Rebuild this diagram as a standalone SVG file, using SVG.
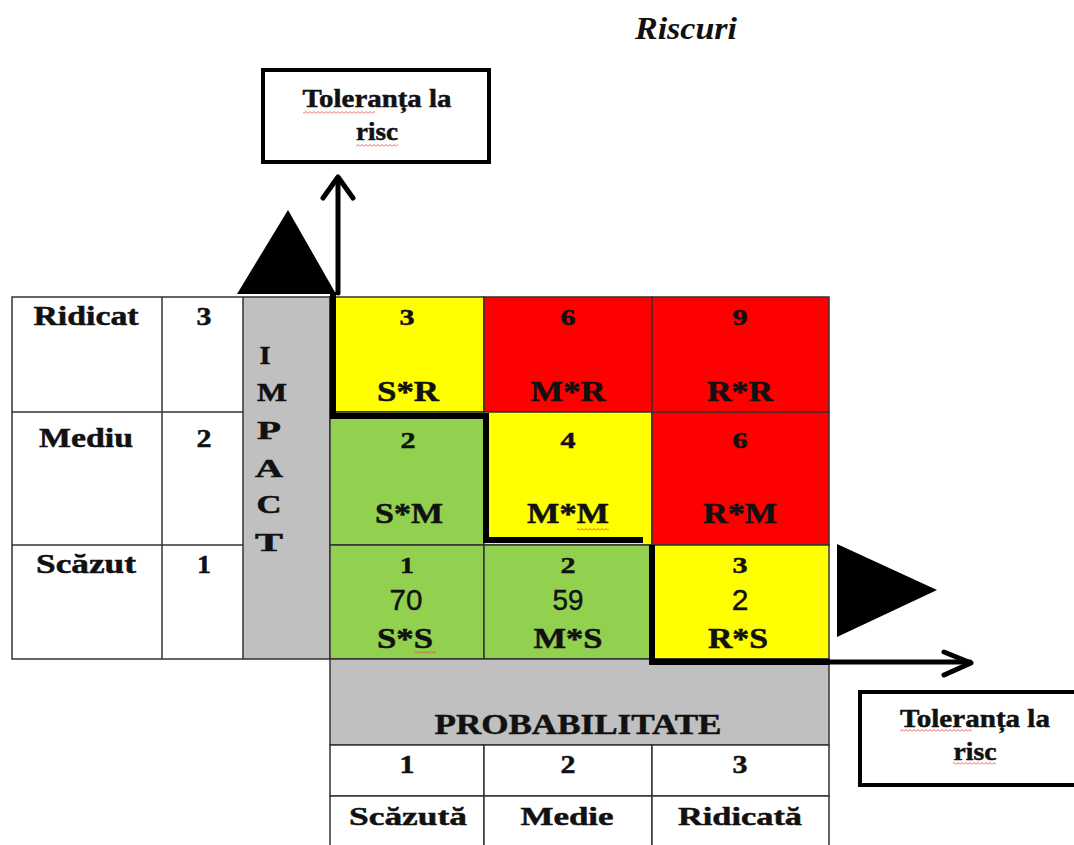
<svg xmlns="http://www.w3.org/2000/svg" width="1074" height="845" viewBox="0 0 1074 845">
<defs>
<style>
.t{font-family:"Liberation Serif","Times New Roman",serif;font-weight:bold;fill:#111;stroke:#111;stroke-width:0.5;text-anchor:middle}
.s{font-family:"Liberation Sans",Arial,sans-serif;font-weight:normal;fill:#111;stroke:#111;stroke-width:0.4;text-anchor:middle}
.g{stroke:#333;stroke-width:1.5}
.box{fill:#fff;stroke:#000;stroke-width:4}
.thick{fill:none;stroke:#000;stroke-width:6}
.arr{fill:none;stroke:#000;stroke-width:5;stroke-linecap:round;stroke-linejoin:round}
</style>
<pattern id="sq" width="4" height="3" patternUnits="userSpaceOnUse"><path d="M0 2.5 L2 0.5 L4 2.5" stroke="#e33" fill="none" stroke-width="0.8"/></pattern>
</defs>
<rect width="1074" height="845" fill="#fff"/>

<g id="title">
<text x="686" y="39" font-family="Liberation Serif,serif" font-weight="bold" font-style="italic" font-size="31" text-anchor="middle" textLength="102" lengthAdjust="spacingAndGlyphs" fill="#111">Riscuri</text>
</g>

<g id="tolerance-top">
<rect class="box" x="263" y="70" width="226" height="92"/>
<text class="t" x="377" y="107" font-size="26" textLength="149" lengthAdjust="spacingAndGlyphs">Toleranța la</text>
<text class="t" x="377" y="140" font-size="26" textLength="42" lengthAdjust="spacingAndGlyphs">risc</text>
<rect x="303" y="111" width="72" height="3" fill="url(#sq)"/>
<rect x="356" y="144" width="42" height="3" fill="url(#sq)"/>
</g>

<g id="tolerance-right">
<rect class="box" x="860" y="692" width="220" height="93"/>
<text class="t" x="975" y="727" font-size="26" textLength="150" lengthAdjust="spacingAndGlyphs">Toleranța la</text>
<text class="t" x="975" y="760" font-size="26" textLength="43" lengthAdjust="spacingAndGlyphs">risc</text>
<rect x="900" y="729" width="72" height="3" fill="url(#sq)"/>
<rect x="953" y="762" width="43" height="3" fill="url(#sq)"/>
</g>

<g id="impact-table">
<rect x="243" y="297" width="87" height="362" fill="#c0c0c0"/>
<rect class="g" x="12" y="297" width="318" height="362" fill="none"/>
<line class="g" x1="162" y1="297" x2="162" y2="659"/>
<line class="g" x1="243" y1="297" x2="243" y2="659"/>
<line class="g" x1="12" y1="412" x2="243" y2="412"/>
<line class="g" x1="12" y1="545" x2="243" y2="545"/>
<text class="t" x="86" y="325" font-size="27" textLength="105" lengthAdjust="spacingAndGlyphs">Ridicat</text>
<text class="t" x="204" y="325" font-size="25" textLength="15" lengthAdjust="spacingAndGlyphs">3</text>
<text class="t" x="86" y="447" font-size="27" textLength="94" lengthAdjust="spacingAndGlyphs">Mediu</text>
<text class="t" x="204" y="447" font-size="25" textLength="15" lengthAdjust="spacingAndGlyphs">2</text>
<text class="t" x="86" y="573" font-size="27" textLength="100" lengthAdjust="spacingAndGlyphs">Scăzut</text>
<text class="t" x="204" y="573" font-size="25" textLength="14" lengthAdjust="spacingAndGlyphs">1</text>
<text class="t" x="265" y="364" font-size="25" textLength="11" lengthAdjust="spacingAndGlyphs">I</text>
<text class="t" x="272" y="401" font-size="25" textLength="30" lengthAdjust="spacingAndGlyphs">M</text>
<text class="t" x="269" y="439" font-size="25" textLength="24" lengthAdjust="spacingAndGlyphs">P</text>
<text class="t" x="269" y="477" font-size="25" textLength="28" lengthAdjust="spacingAndGlyphs">A</text>
<text class="t" x="269" y="513" font-size="25" textLength="25" lengthAdjust="spacingAndGlyphs">C</text>
<text class="t" x="269" y="551" font-size="25" textLength="28" lengthAdjust="spacingAndGlyphs">T</text>
</g>

<g id="matrix">
<g id="cell-SR"><rect class="g" x="330" y="297" width="154" height="115" fill="#ffff00"/>
<text class="t" x="407" y="325" font-size="24" textLength="15" lengthAdjust="spacingAndGlyphs">3</text><text class="t" x="408" y="401" font-size="29" textLength="62" lengthAdjust="spacingAndGlyphs">S*R</text></g>
<g id="cell-MR"><rect class="g" x="484" y="297" width="168" height="115" fill="#ff0000"/>
<text class="t" x="568" y="325" font-size="24" textLength="15" lengthAdjust="spacingAndGlyphs">6</text><text class="t" x="568" y="401" font-size="29" textLength="75" lengthAdjust="spacingAndGlyphs">M*R</text></g>
<g id="cell-RR"><rect class="g" x="652" y="297" width="177" height="115" fill="#ff0000"/>
<text class="t" x="740" y="325" font-size="24" textLength="15" lengthAdjust="spacingAndGlyphs">9</text><text class="t" x="740" y="401" font-size="29" textLength="66" lengthAdjust="spacingAndGlyphs">R*R</text></g>

<g id="cell-SM"><rect class="g" x="330" y="412" width="154" height="133" fill="#92d050"/>
<text class="t" x="408" y="448" font-size="24" textLength="15" lengthAdjust="spacingAndGlyphs">2</text><text class="t" x="409" y="523" font-size="29" textLength="68" lengthAdjust="spacingAndGlyphs">S*M</text></g>
<g id="cell-MM"><rect class="g" x="484" y="412" width="168" height="133" fill="#ffff00"/>
<text class="t" x="568" y="448" font-size="24" textLength="15" lengthAdjust="spacingAndGlyphs">4</text><text class="t" x="568" y="523" font-size="29" textLength="82" lengthAdjust="spacingAndGlyphs">M*M</text>
<rect x="577" y="528" width="32" height="3" fill="url(#sq)"/></g>
<g id="cell-RM"><rect class="g" x="652" y="412" width="177" height="133" fill="#ff0000"/>
<text class="t" x="740" y="448" font-size="24" textLength="15" lengthAdjust="spacingAndGlyphs">6</text><text class="t" x="740" y="523" font-size="29" textLength="74" lengthAdjust="spacingAndGlyphs">R*M</text></g>

<g id="cell-SS"><rect class="g" x="330" y="545" width="154" height="114" fill="#92d050"/>
<text class="t" x="407" y="573" font-size="24" textLength="14" lengthAdjust="spacingAndGlyphs">1</text>
<text class="s" x="406" y="610" font-size="30" textLength="33" lengthAdjust="spacingAndGlyphs">70</text>
<text class="t" x="405" y="648" font-size="29" textLength="56" lengthAdjust="spacingAndGlyphs">S*S</text>
<rect x="414" y="651" width="22" height="3" fill="url(#sq)"/></g>
<g id="cell-MS"><rect class="g" x="484" y="545" width="168" height="114" fill="#92d050"/>
<text class="t" x="568" y="573" font-size="24" textLength="15" lengthAdjust="spacingAndGlyphs">2</text>
<text class="s" x="568" y="610" font-size="30" textLength="31" lengthAdjust="spacingAndGlyphs">59</text>
<text class="t" x="568" y="648" font-size="29" textLength="69" lengthAdjust="spacingAndGlyphs">M*S</text></g>
<g id="cell-RS"><rect class="g" x="652" y="545" width="177" height="114" fill="#ffff00"/>
<text class="t" x="740" y="573" font-size="24" textLength="15" lengthAdjust="spacingAndGlyphs">3</text>
<text class="s" x="740" y="610" font-size="30">2</text>
<text class="t" x="738" y="648" font-size="29" textLength="60" lengthAdjust="spacingAndGlyphs">R*S</text></g>
</g>

<g id="probability">
<rect class="g" x="330" y="659" width="499" height="86" fill="#c0c0c0"/>
<text class="t" x="578" y="734" font-size="29" textLength="287" lengthAdjust="spacingAndGlyphs">PROBABILITATE</text>
<rect class="g" x="330" y="745" width="154" height="51" fill="#fff"/>
<rect class="g" x="484" y="745" width="168" height="51" fill="#fff"/>
<rect class="g" x="652" y="745" width="177" height="51" fill="#fff"/>
<rect class="g" x="330" y="796" width="154" height="60" fill="#fff"/>
<rect class="g" x="484" y="796" width="168" height="60" fill="#fff"/>
<rect class="g" x="652" y="796" width="177" height="60" fill="#fff"/>
<text class="t" x="407" y="773" font-size="25" textLength="15" lengthAdjust="spacingAndGlyphs">1</text>
<text class="t" x="568" y="773" font-size="25" textLength="15" lengthAdjust="spacingAndGlyphs">2</text>
<text class="t" x="740" y="773" font-size="25" textLength="15" lengthAdjust="spacingAndGlyphs">3</text>
<text class="t" x="408" y="825" font-size="26" textLength="118" lengthAdjust="spacingAndGlyphs">Scăzută</text>
<text class="t" x="567" y="825" font-size="26" textLength="93" lengthAdjust="spacingAndGlyphs">Medie</text>
<text class="t" x="740" y="825" font-size="26" textLength="124" lengthAdjust="spacingAndGlyphs">Ridicată</text>
</g>

<g id="connectors">
<polygon points="237,294 288,210 336,294" fill="#000"/>
<polygon points="837,544 937,590 837,637" fill="#000"/>
<path class="thick" d="M333 292 V416 H486 V540 H643"/>
<path class="thick" d="M652 545 V662 H830"/>
<path class="arr" d="M338 293 V178"/>
<path class="arr" d="M323 198 L338 177 L353 198"/>
<path class="arr" d="M829 662 H970"/>
<path class="arr" d="M944 652 L971 663 L944 675"/>
</g>
</svg>
